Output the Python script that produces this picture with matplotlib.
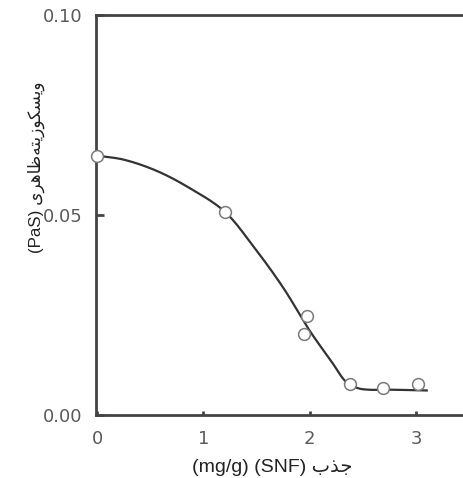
import numpy as np
import matplotlib
matplotlib.use("Agg")
import matplotlib.pyplot as plt

# measured points (open circles)
snf = [0.0, 1.20, 1.97, 1.95, 2.38, 2.69, 3.02]
visc = [0.0647, 0.0508, 0.0248, 0.0203, 0.0078, 0.0066, 0.0076]

# fitted curve, knots
curve_x = [0.0, 0.25, 0.56, 0.87, 1.20, 1.47, 1.75, 2.00, 2.20, 2.34, 2.45, 2.55,
           2.75, 3.11]
curve_y = [0.0648, 0.0638, 0.0610, 0.0567, 0.0508, 0.0421, 0.0318, 0.0210, 0.0135,
           0.0083, 0.0067, 0.0063, 0.0063, 0.0061]

xticks = [0, 1, 2, 3]
yticks = [0.0, 0.05, 0.10]
ytick_labels = ["0.00", "0.05", "0.10"]

# Persian labels pre-shaped (presentation forms, visual order)
ylabel = "(PaS) " + "\uFBFC\uFEAE\uFEEB\uFE8E\uFEC7" + \
    "\uFEEA\uFE98\uFBFE\uFEAF\uFEEE\uFB91\uFEB4\uFBFE\uFEED"
xlabel = "(mg/g) (SNF) " + "\uFE8F\uFEAC\uFE9F"


def catmull_rom(xs, ys, sx=1.0, sy=1.0, n=20):
    # centripetal Catmull-Rom through the knots, just to draw a smooth line
    p = np.column_stack([np.asarray(xs) * sx, np.asarray(ys) * sy])
    p = np.vstack([2 * p[0] - p[1], p, 2 * p[-1] - p[-2]])
    out = []
    for i in range(1, len(p) - 2):
        p0, p1, p2, p3 = p[i - 1], p[i], p[i + 1], p[i + 2]
        t0 = 0.0
        t1 = t0 + np.linalg.norm(p1 - p0) ** 0.5
        t2 = t1 + np.linalg.norm(p2 - p1) ** 0.5
        t3 = t2 + np.linalg.norm(p3 - p2) ** 0.5
        t = np.linspace(t1, t2, n)[:, None]
        a1 = (t1 - t) / (t1 - t0) * p0 + (t - t0) / (t1 - t0) * p1
        a2 = (t2 - t) / (t2 - t1) * p1 + (t - t1) / (t2 - t1) * p2
        a3 = (t3 - t) / (t3 - t2) * p2 + (t - t2) / (t3 - t2) * p3
        b1 = (t2 - t) / (t2 - t0) * a1 + (t - t0) / (t2 - t0) * a2
        b2 = (t3 - t) / (t3 - t1) * a2 + (t - t1) / (t3 - t1) * a3
        c = (t2 - t) / (t2 - t1) * b1 + (t - t1) / (t2 - t1) * b2
        out.append(c if i == 1 else c[1:])
    out = np.vstack(out)
    return out[:, 0] / sx, out[:, 1] / sy


fam = ["Liberation Sans", "DejaVu Sans"]
plt.rcParams["font.family"] = fam

fig = plt.figure(figsize=(4.64, 4.78), dpi=100)
ax = fig.add_axes([0.207, 0.132, 0.793, 0.837])

cx, cy = catmull_rom(curve_x, curve_y, sx=106.5, sy=4000.0)
ax.plot(cx, cy, color="#333333", lw=1.6, solid_joinstyle="round",
        solid_capstyle="butt", zorder=2)
ax.plot(snf, visc, "o", ms=8.5, mfc="white", mec="#7a7a7a", mew=1.1, zorder=3,
        clip_on=False)

ax.set_xlim(-0.01, 3.45)
ax.set_ylim(0, 0.10)
ax.set_xticks(xticks)
ax.set_yticks(yticks)
ax.set_yticklabels(ytick_labels)

for s in ["left", "bottom", "top"]:
    ax.spines[s].set_color("#444444")
    ax.spines[s].set_linewidth(2.0)
ax.spines["right"].set_visible(False)

ax.tick_params(axis="x", direction="in", length=3, width=2, color="#444444",
               pad=11, labelsize=13, labelcolor="#5a5a5a")
ax.tick_params(axis="y", direction="in", length=6, width=2, color="#444444",
               pad=10, labelsize=13, labelcolor="#5a5a5a")
for lab in ax.get_xticklabels() + ax.get_yticklabels():
    lab.set_family("DejaVu Sans")

fig.text(0.078, 0.65, ylabel, rotation=90, ha="center", va="center",
         fontsize=12.2, color="#222222", family=fam)
fig.text(0.587, 0.021, xlabel, ha="center", va="center",
         fontsize=14, color="#222222", family=fam)

fig.savefig("out.png", dpi=100)
